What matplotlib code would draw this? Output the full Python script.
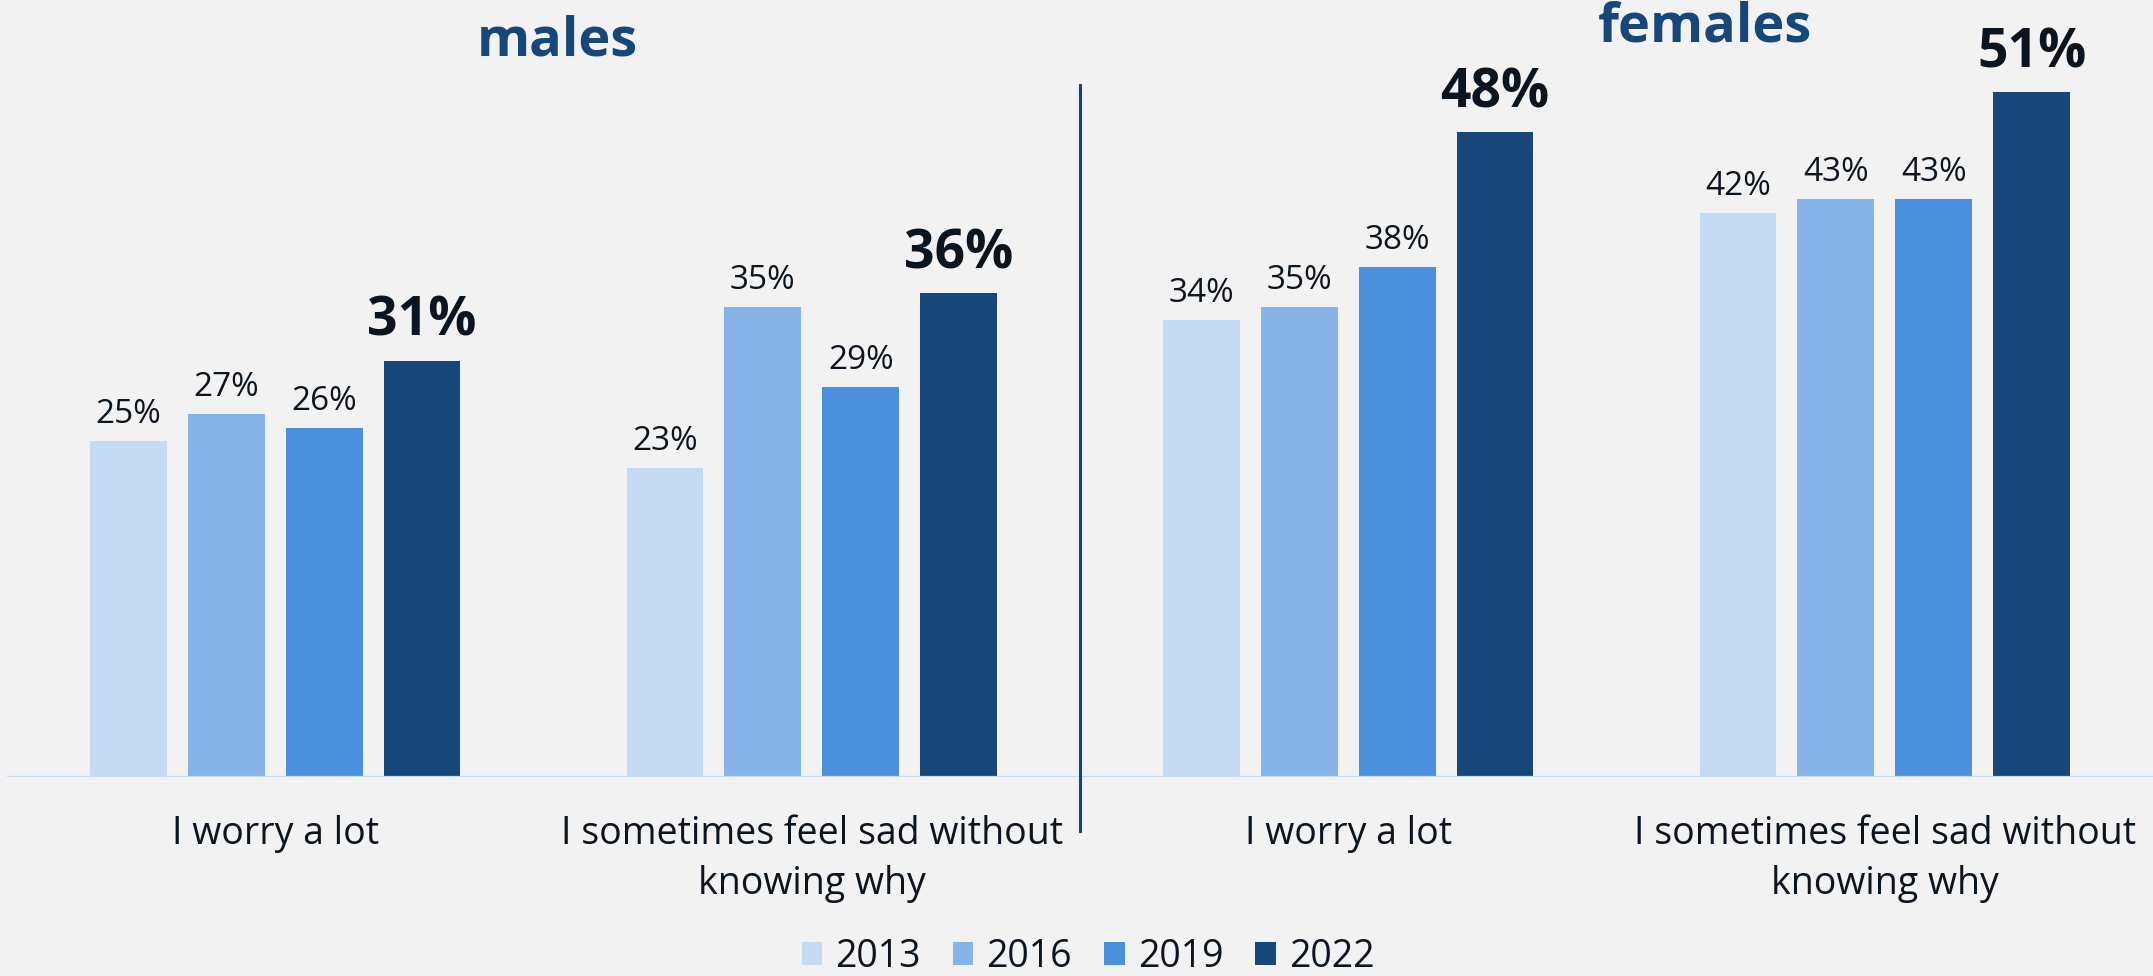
import matplotlib
matplotlib.use("Agg")
import matplotlib.pyplot as plt
import matplotlib.transforms as mtrans
from matplotlib.patches import Patch
import numpy as np

plt.rcParams['font.family'] = ['Open Sans', 'DejaVu Sans']

# ---- data ----
groups = ["males", "females"]
categories = ["I worry a lot", "I sometimes feel sad without\nknowing why"]
years = ["2013", "2016", "2019", "2022"]
values_2013 = [25, 23, 34, 42]
values_2016 = [27, 35, 35, 43]
values_2019 = [26, 29, 38, 43]
values_2022 = [31, 36, 48, 51]
series = [values_2013, values_2016, values_2019, values_2022]
colors = ["#C4DBF3", "#86B4E8", "#4A90DC", "#17477A"]

BG = "#F2F2F2"
TXT = "#0B1520"
DARK = "#17477A"

fig = plt.figure(figsize=(21.53, 9.76), dpi=100, facecolor=BG)
ax = fig.add_axes([7 / 2153, (976 - 777) / 976, (2153 - 7) / 2153, 777 / 976])
ax.set_facecolor(BG)

n_pos = len(groups) * len(categories)
x = np.arange(n_pos)
step = 0.1825
width = 0.143
offsets = (np.arange(len(years)) - 1.5) * step

for i, (vals, col) in enumerate(zip(series, colors)):
    ax.bar(x + offsets[i], vals, width=width, color=col, zorder=2)
    for xb, v in zip(x + offsets[i], vals):
        if i == len(years) - 1:
            ax.annotate(f"{v}%", (xb, v), xytext=(0, 18), textcoords="offset points",
                        ha="center", va="baseline", fontsize=38.5, fontweight="bold", color=TXT)
        else:
            ax.annotate(f"{v}%", (xb, v), xytext=(0, 13), textcoords="offset points",
                        ha="center", va="baseline", fontsize=24, color=TXT)

ax.set_xlim(-0.5, n_pos - 0.5)
ax.set_ylim(0, 57.85)
for s in ax.spines.values():
    s.set_visible(False)
ax.set_xticks([])
ax.set_yticks([])
ax.axhline(0, color="#C4DBF3", lw=1.6, zorder=3)

# category labels (top-aligned)
blend = mtrans.blended_transform_factory(ax.transData, fig.transFigure)
all_cats = categories * len(groups)
for xi, lab in zip(x, all_cats):
    ax.text(xi, 1 - 815 / 976, lab, transform=blend, ha="center", va="top",
            fontsize=27, color=TXT, linespacing=1.42, clip_on=False)

# group titles
fig.text(557 / 2153, 1 - 41 / 976, groups[0], ha="center", va="center",
         fontsize=39, fontweight="bold", color=DARK)
fig.text(1705 / 2153, 1 - 27 / 976, groups[1], ha="center", va="center",
         fontsize=39, fontweight="bold", color=DARK)

# divider
div_x = 1.5
ax.plot([div_x, div_x], [-(831 - 777) / 13.43, (777 - 85) / 13.43], color=DARK, lw=2.2,
        clip_on=False, zorder=4)

# legend
handles = [Patch(facecolor=c, edgecolor="none", label=y) for c, y in zip(colors, years)]
fig.legend(handles=handles, loc="center", bbox_to_anchor=(1088 / 2153, 1 - 957 / 976), ncol=4,
           frameon=False, fontsize=27, handlelength=0.55, handleheight=0.55,
           handletextpad=0.35, columnspacing=0.85, labelcolor=TXT)

fig.savefig("out.png", dpi=100, facecolor=BG)
